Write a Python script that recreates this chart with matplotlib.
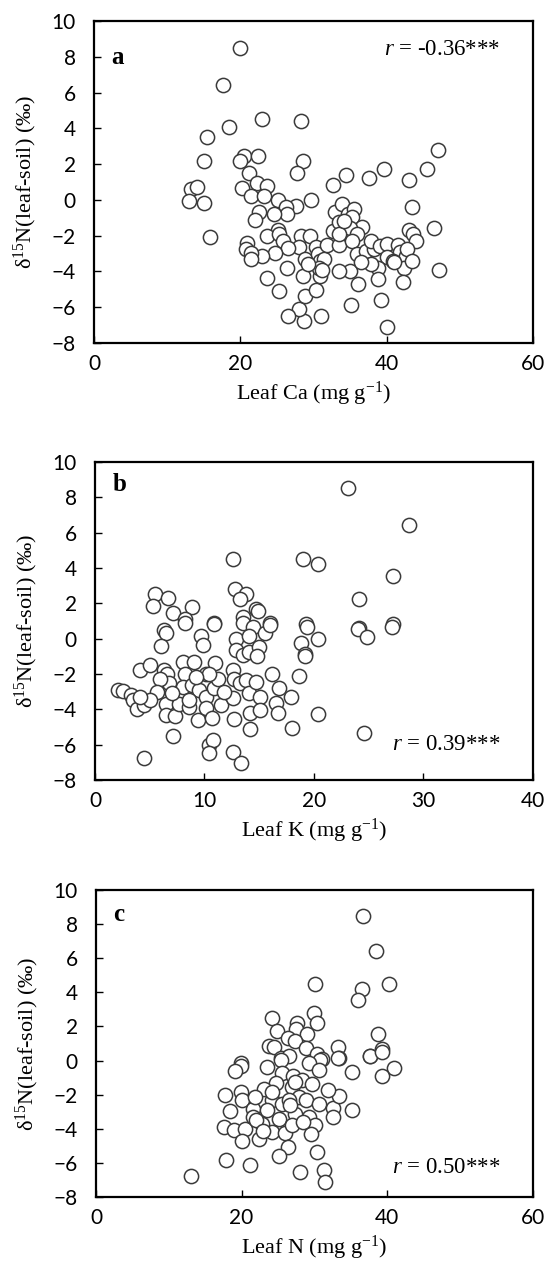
import matplotlib
matplotlib.use("Agg")
import matplotlib.pyplot as plt

# Panel a: leaf Ca vs d15N(leaf-soil)
ca_x = [20.0, 17.6, 22.9, 28.3, 18.5, 15.5, 15.1, 47.0, 45.5, 39.7, 37.6, 34.4, 32.7, 43.1,
        20.5, 20.0, 22.4, 28.5, 27.7, 21.2, 22.3, 23.6, 20.2, 21.5, 23.3, 25.1, 29.7, 13.2,
        14.1, 13.0, 15.0, 15.9, 43.5, 46.4, 47.1, 27.6, 26.2, 26.4, 22.6, 24.6, 22.0, 33.0,
        33.9, 34.7, 35.5, 35.3, 36.6, 32.6, 33.5, 35.0, 36.0, 25.1, 23.6, 25.3, 25.8, 28.3,
        29.5, 28.0, 26.5, 24.8, 23.0, 20.9, 20.8, 21.5, 21.4, 28.8, 30.4, 30.6, 30.9, 31.4,
        31.9, 33.5, 35.3, 36.0, 37.2, 38.3, 37.9, 39.1, 40.0, 41.5, 41.8, 42.6, 43.0, 43.6,
        44.0, 42.8, 40.1, 40.8, 42.3, 38.8, 37.9, 38.8, 39.2, 40.0, 42.2, 35.0, 33.5, 36.1,
        35.1, 31.0, 28.7, 28.0, 26.5, 28.8, 30.3, 28.5, 30.9, 30.8, 26.4, 23.7, 25.3, 43.5,
        29.2, 33.5, 36.5, 34.2, 31.2, 41.0]
ca_y = [8.5, 6.4, 4.5, 4.4, 4.1, 3.5, 2.2, 2.8, 1.7, 1.75, 1.2, 1.4, 0.85, 1.1,
        2.45, 2.2, 2.45, 2.2, 1.5, 1.5, 0.97, 0.8, 0.65, 0.2, 0.2, 0.0, 0.0, 0.6,
        0.7, -0.05, -0.2, -2.1, -0.4, -1.55, -3.9, -0.35, -0.4, -0.8, -0.7, -0.8, -1.1, -0.65,
        -0.25, -0.8, -0.5, -0.95, -1.5, -1.75, -1.25, -1.55, -1.9, -1.7, -2.0, -1.9, -2.3, -2.0,
        -2.0, -2.65, -2.7, -2.95, -3.15, -2.4, -2.75, -2.95, -3.3, -3.3, -2.65, -3.0, -3.4, -3.3,
        -2.55, -2.5, -2.3, -3.0, -2.85, -2.75, -2.3, -2.6, -2.45, -2.55, -2.9, -3.15, -1.7, -1.9,
        -2.3, -2.75, -3.2, -3.4, -3.8, -3.8, -3.6, -4.4, -5.6, -7.1, -4.6, -4.0, -4.0, -4.7,
        -5.9, -6.5, -6.8, -6.1, -6.5, -5.4, -5.05, -4.25, -4.25, -3.8, -3.8, -4.35, -5.1, -3.4,
        -3.6, -1.9, -3.5, -1.2, -3.9, -3.5]

# Panel b: leaf K vs d15N(leaf-soil)
k_x = [23.1, 28.7, 12.6, 19.0, 20.4, 27.2, 12.8, 13.8, 13.2, 24.1, 5.5, 6.7, 5.3, 8.9,
       7.1, 8.2, 10.9, 14.7, 14.9, 13.5, 16.0, 19.3, 24.1, 27.2, 6.3,
       24.0, 24.8, 27.1, 8.2, 10.9, 6.5, 6.0, 9.7, 9.9, 13.5, 14.4, 15.5, 16.0, 12.9,
       14.1, 12.9, 13.5, 14.1, 15.0, 14.8, 19.4, 18.8, 20.4, 19.2, 19.2, 4.1, 5.0, 6.3,
       6.6, 8.0, 9.0, 8.2, 6.8, 5.9, 5.7, 2.1, 2.6, 3.3, 3.5, 3.8, 4.5, 5.0, 4.1, 6.5,
       6.5, 7.3, 7.7, 8.0, 8.6, 8.9, 9.5, 9.4, 10.1, 10.1, 10.1, 10.7, 11.0, 10.9, 11.2,
       11.5, 10.4, 12.6, 12.7, 12.6, 12.7, 13.2, 13.8, 14.1, 14.7, 15.1, 14.2, 14.2, 15.1,
       16.2, 16.8, 16.5, 16.7, 17.9, 18.6, 18.0, 20.4, 24.6, 7.15, 4.5, 10.4, 10.8, 10.4,
       12.6, 13.3, 8.6, 11.8, 9.2, 7.0]
k_y = [8.5, 6.44, 4.52, 4.52, 4.2, 3.53, 2.83, 2.5, 2.25, 2.25, 2.5, 2.3, 1.84, 1.8,
       1.43, 1.1, 0.9, 1.65, 1.55, 1.24, 0.9, 0.8, 0.6, 0.8, 0.5,
       0.54, 0.07, 0.67, 0.9, 0.8, 0.3, -0.4, 0.17, -0.34, 0.86, 0.67, 0.3, 0.79, -0.02,
       0.17, -0.67, -0.95, -0.77, -0.45, -1.0, 0.64, -0.26, -0.02, -0.86, -1.0, -1.8, -1.5, -1.76,
       -1.98, -1.33, -1.33, -1.98, -2.5, -2.3, -3.0, -2.9, -2.95, -3.2, -3.5, -4.0, -3.75, -3.5, -3.3, -3.7,
       -4.3, -4.4, -3.7, -2.73, -3.86, -2.64, -2.9, -4.6, -1.98, -3.3, -3.9, -4.5, -1.4, -2.8, -2.26,
       -3.76, -1.98, -1.8, -2.26, -3.38, -4.56, -2.54, -2.36, -3.07, -2.45, -3.33, -4.19, -5.12, -4.04,
       -2.02, -2.82, -3.66, -4.19, -3.33, -2.13, -5.07, -4.28, -5.35, -5.5, -6.75, -6.0, -5.76, -6.47,
       -6.43, -7.03, -3.5, -3.0, -2.2, -3.1]

# Panel c: leaf N vs d15N(leaf-soil)
n_x = [36.7, 38.4, 40.2, 30.1, 36.6, 36.0, 29.9, 30.4, 24.2, 24.9, 27.6, 27.5, 29.0, 26.4,
       27.4, 23.8, 24.4, 28.8, 33.3, 38.8, 39.3, 37.6, 25.4, 26.5, 30.4, 31.0, 33.4, 19.9,
       37.7, 39.3, 40.9, 39.3, 35.2, 33.3, 30.8, 29.2, 30.6, 25.4, 23.5, 19.9, 19.1, 25.6,
       27.1, 28.3, 29.7, 24.7, 23.1, 26.9, 27.9, 28.8, 17.7, 19.9, 20.1, 21.5, 18.4, 17.6,
       18.9, 20.5, 20.0, 22.4, 24.2, 25.5, 26.5, 23.5, 25.1, 24.2, 25.9, 27.4, 26.9, 29.3,
       30.1, 29.5, 30.6, 32.5, 32.5, 33.4, 35.1, 26.4, 25.1, 30.4, 17.8, 21.1, 28.0, 31.3,
       31.4, 13.1, 21.5, 22.8, 26.7, 21.9, 24.2, 27.4, 22.0, 28.5, 31.8, 23.0]
n_y = [8.48, 6.43, 4.47, 4.47, 4.18, 3.54, 2.81, 2.23, 2.52, 1.74, 2.23, 1.84, 1.54, 1.35,
       1.15, 0.86, 0.8, 0.76, 0.8, 1.54, 0.66, 0.27, 0.18, 0.27, 0.37, 0.08, 0.18, -0.12,
       0.24, 0.5, -0.42, -0.93, -0.68, 0.16, 0.05, -0.15, -0.54, 0.01, -0.38, -0.34, -0.62, -0.72,
       -0.93, -1.16, -1.36, -1.32, -1.65, -1.55, -2.14, -2.3, -2.04, -1.85, -2.3, -2.82, -2.96, -3.9,
       -4.05, -4.0, -4.72, -4.58, -2.3, -2.53, -2.33, -2.88, -3.41, -4.19, -4.25, -3.12, -3.8, -3.3,
       -3.8, -4.33, -2.53, -2.77, -3.3, -2.1, -2.92, -5.07, -5.62, -5.36, -5.85, -6.14, -6.54, -6.44,
       -7.12, -6.79, -3.3, -3.74, -2.63, -2.14, -1.85, -1.26, -3.5, -3.6, -1.7, -4.1]

panels = [
    dict(x=ca_x, y=ca_y, xmax=60, xticks=[0, 20, 40, 60], letter="a", letter_y=0.888,
         r_text="-0.36***", r_y=0.91, xlabel="Leaf Ca (mg g$^{-1}$)",
         rect=[0.1694, 0.7308, 0.791, 0.2527]),
    dict(x=k_x, y=k_y, xmax=40, xticks=[0, 10, 20, 30, 40], letter="b", letter_y=0.93,
         r_text="0.39***", r_y=0.11, xlabel="Leaf K (mg g$^{-1}$)",
         rect=[0.1712, 0.3878, 0.789, 0.2496]),
    dict(x=n_x, y=n_y, xmax=60, xticks=[0, 20, 40, 60], letter="c", letter_y=0.92,
         r_text="0.50***", r_y=0.095, xlabel="Leaf N (mg g$^{-1}$)",
         rect=[0.173, 0.0604, 0.787, 0.241]),
]

plt.rcParams["font.family"] = ["Liberation Serif", "DejaVu Serif"]
plt.rcParams["mathtext.fontset"] = "custom"
plt.rcParams["mathtext.rm"] = "Liberation Serif"
plt.rcParams["mathtext.it"] = "Liberation Serif:italic"

fig = plt.figure(figsize=(5.55, 12.74), dpi=100)

for p in panels:
    ax = fig.add_axes(p["rect"])
    ax.scatter(p["x"], p["y"], s=105, facecolors="white", edgecolors="#3a3a3a",
               linewidths=1.1, zorder=3)
    ax.set_xlim(0, p["xmax"])
    ax.set_ylim(-8, 10)
    ax.set_xticks(p["xticks"])
    ax.set_yticks(range(-8, 11, 2))
    for s in ax.spines.values():
        s.set_linewidth(1.6)
        s.set_color("black")
    ax.tick_params(direction="in", length=5, width=1.0, labelsize=15)
    ax.tick_params(axis="x", pad=8)
    ax.tick_params(axis="y", pad=13)
    for lab in ax.get_xticklabels() + ax.get_yticklabels():
        lab.set_family("Lato")
    ax.set_xlabel(p["xlabel"], fontsize=16, labelpad=4)
    ax.set_ylabel("δ$^{15}$N(leaf-soil) (‰)", fontsize=16)
    ax.yaxis.set_label_coords(-0.125, 0.5)
    ax.text(0.04, p["letter_y"], p["letter"], transform=ax.transAxes,
            fontsize=18, fontweight="bold", va="center", ha="left")
    ax.text(0.925, p["r_y"], "$r$ = " + p["r_text"], transform=ax.transAxes,
            fontsize=16.5, va="center", ha="right")

fig.savefig("out.png", dpi=100)
